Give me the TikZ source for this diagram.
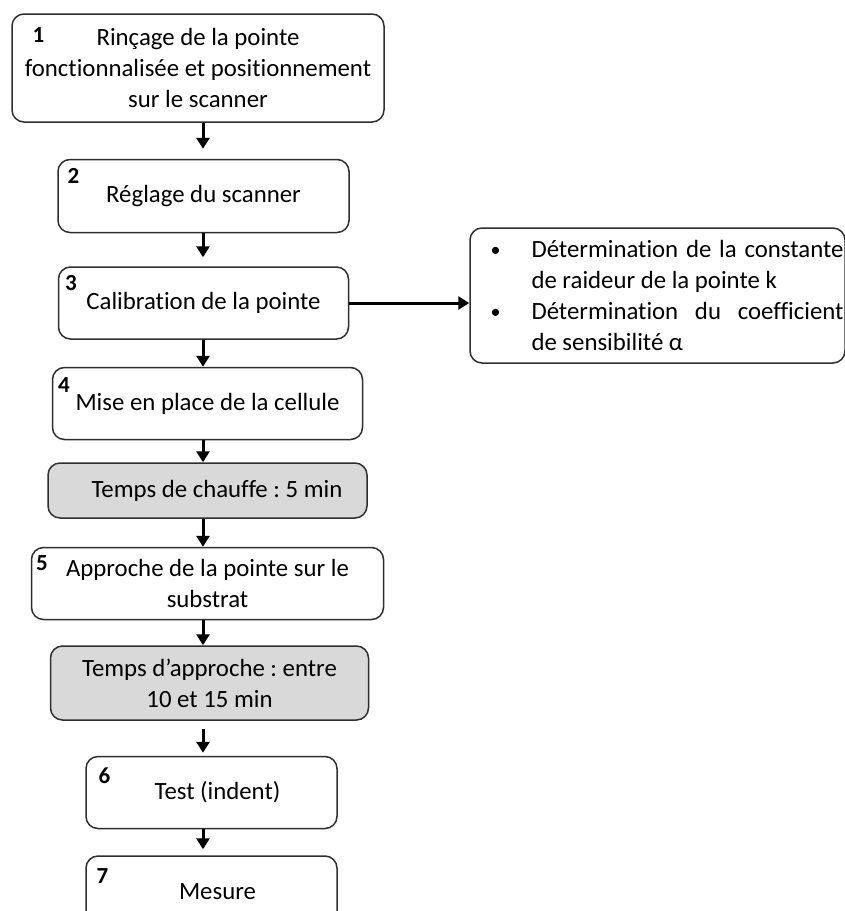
\documentclass[tikz,border=0pt]{standalone}
\usepackage{fontspec}
\setmainfont{Carlito}[Ligatures={NoCommon}]
\usepackage{tikz}
\usetikzlibrary{arrows.meta,positioning}
\definecolor{softgray}{HTML}{D9D9D9}
\definecolor{edgegray}{HTML}{2E2E2E}
\frenchspacing
\newcommand{\puce}{\leavevmode\llap{\makebox[36pt]{\raisebox{0.4pt}{\fontsize{10pt}{10pt}\selectfont\textbullet}}}}

\begin{document}
\begin{tikzpicture}[every node/.style={font=\fontsize{12.4pt}{15.5pt}\selectfont,align=center}, >={Triangle[width=6.5pt,length=5.5pt]},
  stepbox/.style={draw=edgegray, line width=0.75pt, rounded corners=6pt, minimum height=36pt, inner sep=2pt},
  waitbox/.style={stepbox, fill=softgray},
  num/.style={font=\fontsize{11.5pt}{13pt}\selectfont\bfseries, inner sep=0pt, anchor=north west},
  flow/.style={->, line width=1.5pt}]
  \useasboundingbox (0,0) rectangle (422.5pt,-455.5pt);
  \coordinate (spine) at (101.5pt,0);

  \node[stepbox, minimum width=186pt, minimum height=54pt] (s1) at (99pt,-34pt) {Rinçage de la pointe\\fonctionnalisée et positionnement\\sur le scanner};
  \node[stepbox, below=18pt of s1, xshift=2.75pt, minimum width=145.5pt, minimum height=36.5pt] (s2) {Réglage du scanner};
  \node[stepbox, below=16.5pt of s2, minimum width=145pt] (s3) {Calibration de la pointe};
  \node[stepbox, right=60pt of s3, yshift=3.75pt, minimum width=187.5pt, minimum height=67.5pt, inner xsep=0pt] (calib)
    {\parbox{186pt}{\leftskip=30pt \parindent=0pt
      \puce Détermination de la constante\linebreak de raideur de la pointe k\par
      \puce Détermination du coefficient\linebreak de sensibilité α}};
  \node[stepbox, below=13.5pt of s3, xshift=2pt, minimum width=155pt] (s4) {Mise en place de la cellule};
  \node[waitbox, below=11pt of s4, minimum width=159.5pt, minimum height=27.5pt] (chauffe) {\hspace*{9.5pt}Temps de chauffe : 5 min};
  \node[stepbox, below=14pt of chauffe, minimum width=176pt] (s5) {Approche de la pointe sur le\\substrat};
  \node[waitbox, below=12.5pt of s5, xshift=1pt, minimum width=159pt, minimum height=37pt] (approche) {Temps d’approche : entre\\10 et 15 min};
  \node[stepbox, below=17.5pt of approche, xshift=1pt, minimum width=125.5pt] (s6) {\hspace*{6pt}Test (indent)};
  \node[stepbox, below=13pt of s6, minimum width=125.5pt] (s7) {\hspace*{6pt}Mesure};

  % step numbers
  \node[num] (n1) at ([shift={(10.5pt,-7pt)}]s1.north west) {1};
  \node[num] (n2) at ([shift={(5pt,-4.5pt)}]s2.north west) {2};
  \node[num] (n3) at ([shift={(3.5pt,-4.5pt)}]s3.north west) {3};
  \node[num] (n4) at ([shift={(3pt,-5pt)}]s4.north west) {4};
  \node[num] (n5) at ([shift={(2.5pt,-4pt)}]s5.north west) {5};
  \node[num] (n6) at ([shift={(6.5pt,-6pt)}]s6.north west) {6};
  \node[num] (n7) at ([shift={(5.5pt,-6.5pt)}]s7.north west) {7};

  \draw[flow, shorten >=5pt] (s1.south -| spine) -- (s2.north -| spine);
  \draw[flow, shorten >=4.5pt] (s2.south -| spine) -- (s3.north -| spine);
  \draw[flow] (s3.south -| spine) -- (s4.north -| spine);
  \draw[flow] (s4.south -| spine) -- (chauffe.north -| spine);
  \draw[flow] (chauffe.south -| spine) -- (s5.north -| spine);
  \draw[flow] (s5.south -| spine) -- (approche.north -| spine);
  \draw[flow, shorten <=4pt, shorten >=1.5pt] (approche.south -| spine) -- (s6.north -| spine);
  \draw[flow, shorten >=3pt] (s6.south -| spine) -- (s7.north -| spine);
  \draw[flow] (s3.east) -- (s3.east -| calib.west);
\end{tikzpicture}
\end{document}
